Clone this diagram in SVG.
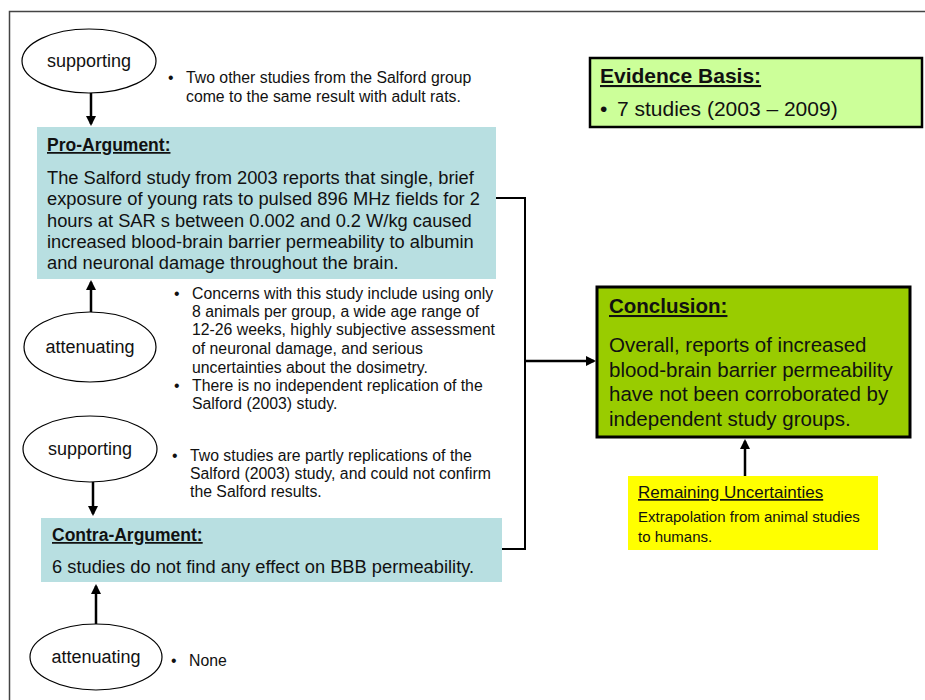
<svg xmlns="http://www.w3.org/2000/svg" width="925" height="700" viewBox="0 0 925 700">
<defs>
<marker id="ah" markerWidth="4" markerHeight="4" refX="3.2" refY="2" orient="auto" markerUnits="strokeWidth">
<path d="M0,0 L4,2 L0,4 Z" fill="#000"/>
</marker>
<style>
text{font-family:"Liberation Sans",Arial,sans-serif;fill:#111}
.ell{fill:#fff;stroke:#000;stroke-width:1.2}
.et{font-size:18px;text-anchor:middle}
.bul{font-size:15.8px}
.arg{fill:#b8dfe1}
.tt{font-weight:bold;text-decoration:underline}
.body{font-size:18.3px}
.con{stroke:#000;stroke-width:2.5;fill:none}
.br{stroke:#000;stroke-width:2;fill:none}
</style>
</defs>
<rect width="925" height="700" fill="#fff"/>
<path d="M9.5,700 V11.5 H925" fill="none" stroke="#444" stroke-width="1.5"/>

<g id="connectors">
<line class="con" x1="91" y1="93" x2="91" y2="124" marker-end="url(#ah)"/>
<line class="con" x1="91" y1="312" x2="91" y2="282" marker-end="url(#ah)"/>
<line class="con" x1="93" y1="482" x2="93" y2="514" marker-end="url(#ah)"/>
<line class="con" x1="96" y1="624" x2="96" y2="586" marker-end="url(#ah)"/>
<path class="br" d="M496,198 H525 V549 H502"/>
<line class="con" x1="525" y1="361" x2="594" y2="361" marker-end="url(#ah)"/>
<line class="con" x1="745" y1="477" x2="745" y2="441" marker-end="url(#ah)"/>
</g>

<g id="supporting1">
<ellipse class="ell" cx="89" cy="61" rx="67" ry="32"/>
<text class="et" x="89" y="67">supporting</text>
</g>
<g id="supporting1-note">
<text class="bul" x="168" y="83">•</text>
<text class="bul" x="186" y="83">Two other studies from the Salford group</text>
<text class="bul" x="186" y="102">come to the same result with adult rats.</text>
</g>

<g id="pro">
<rect class="arg" x="37" y="127" width="459" height="152"/>
<text class="tt" x="47" y="151" font-size="17.5px">Pro-Argument:</text>
<text class="body" x="47" y="184">The Salford study from 2003 reports that single, brief</text>
<text class="body" x="47" y="205">exposure of young rats to pulsed 896 MHz fields for 2</text>
<text class="body" x="47" y="227">hours at SAR s between 0.002 and 0.2 W/kg caused</text>
<text class="body" x="47" y="248">increased blood-brain barrier permeability to albumin</text>
<text class="body" x="47" y="269">and neuronal damage throughout the brain.</text>
</g>

<g id="attenuating1">
<ellipse class="ell" cx="90" cy="347" rx="66" ry="35"/>
<text class="et" x="90" y="353">attenuating</text>
</g>
<g id="attenuating1-note">
<text class="bul" x="174" y="299">•</text>
<text class="bul" x="192" y="299">Concerns with this study include using only</text>
<text class="bul" x="192" y="317">8 animals per group, a wide age range of</text>
<text class="bul" x="192" y="335">12-26 weeks, highly subjective assessment</text>
<text class="bul" x="192" y="354">of neuronal damage, and serious</text>
<text class="bul" x="192" y="373">uncertainties about the dosimetry.</text>
<text class="bul" x="174" y="391">•</text>
<text class="bul" x="192" y="391">There is no independent replication of the</text>
<text class="bul" x="192" y="409">Salford (2003) study.</text>
</g>

<g id="supporting2">
<ellipse class="ell" cx="90" cy="449" rx="67" ry="33"/>
<text class="et" x="90" y="455">supporting</text>
</g>
<g id="supporting2-note">
<text class="bul" x="172" y="461">•</text>
<text class="bul" x="190" y="461">Two studies are partly replications of the</text>
<text class="bul" x="190" y="479">Salford (2003) study, and could not confirm</text>
<text class="bul" x="190" y="497">the Salford results.</text>
</g>

<g id="contra">
<rect class="arg" x="41" y="518" width="461" height="64"/>
<text class="tt" x="52" y="541" font-size="17.5px">Contra-Argument:</text>
<text class="body" x="52" y="573">6 studies do not find any effect on BBB permeability.</text>
</g>

<g id="attenuating2">
<ellipse class="ell" cx="96" cy="657" rx="66" ry="33"/>
<text class="et" x="96" y="663">attenuating</text>
</g>
<g id="attenuating2-note">
<text class="bul" x="171" y="666">•</text>
<text class="bul" x="189" y="666">None</text>
</g>

<g id="evidence">
<rect x="590" y="58" width="332" height="69" fill="#ccff99" stroke="#000" stroke-width="2.5"/>
<text class="tt" x="600" y="83" font-size="21px">Evidence Basis:</text>
<text x="600" y="116" font-size="21px">•</text>
<text x="617" y="116" font-size="21px">7 studies (2003 – 2009)</text>
</g>

<g id="conclusion">
<rect x="597" y="287" width="313" height="150" fill="#99cc00" stroke="#000" stroke-width="3"/>
<text class="tt" x="609" y="313" font-size="20.5px">Conclusion:</text>
<text x="609" y="352" font-size="20.5px">Overall, reports of increased</text>
<text x="609" y="377" font-size="20.5px">blood-brain barrier permeability</text>
<text x="609" y="401" font-size="20.5px">have not been corroborated by</text>
<text x="609" y="426" font-size="20.5px">independent study groups.</text>
</g>

<g id="uncertainties">
<rect x="628" y="476" width="250" height="74" fill="#ffff00"/>
<text x="638" y="498" font-size="17px" text-decoration="underline">Remaining Uncertainties</text>
<text x="638" y="522" font-size="15px">Extrapolation from animal studies</text>
<text x="638" y="542" font-size="15px">to humans.</text>
</g>
</svg>
